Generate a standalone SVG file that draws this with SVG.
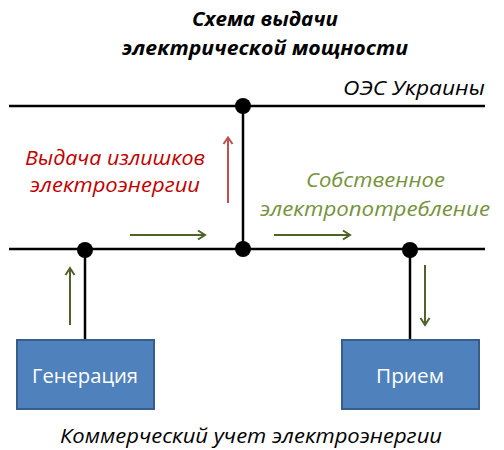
<svg xmlns="http://www.w3.org/2000/svg" width="504" height="450" viewBox="0 0 504 450">
<defs>
<style>
.t{font-family:"Open Sans","DejaVu Sans",sans-serif;font-style:italic;font-size:20px}
.bus{stroke:#000;stroke-width:2.5;fill:none}
.g{stroke:#4F6228;stroke-width:2;fill:none}
.r{stroke:#C0504D;stroke-width:2;fill:none}
.box{fill:#4F81BD;stroke:#385D8A;stroke-width:2}
.bt{font-family:"Open Sans","DejaVu Sans",sans-serif;font-size:20px;fill:#fff}
</style>
</defs>
<rect width="504" height="450" fill="#fff"/>
<g id="title">
<text class="t" x="192" y="26" font-weight="bold" textLength="146" lengthAdjust="spacingAndGlyphs">Схема выдачи</text>
<text class="t" x="122" y="55" font-weight="bold" textLength="286" lengthAdjust="spacingAndGlyphs">электрической мощности</text>
</g>
<text class="t" x="343" y="95" textLength="142" lengthAdjust="spacingAndGlyphs">ОЭС Украины</text>
<g id="connectors">
<line class="bus" x1="9" y1="106" x2="485" y2="106"/>
<line class="bus" x1="9" y1="249" x2="485" y2="249"/>
<line class="bus" x1="243" y1="106" x2="243" y2="249"/>
<line class="bus" x1="85" y1="249" x2="85" y2="340"/>
<line class="bus" x1="410" y1="249" x2="410" y2="340"/>
<path class="r" d="M228 203V138M223.5 144L228 137.5L232.5 144"/>
<path class="g" d="M130 235H204M198 230.5L205 235L198 239.5"/>
<path class="g" d="M274 235H349M343 230.5L350 235L343 239.5"/>
<path class="g" d="M70 325V269M65.5 275L70 268L74.5 275"/>
<path class="g" d="M425 265V324M420.5 318L425 325L429.5 318"/>
</g>
<g id="dots">
<circle cx="243" cy="106" r="8"/>
<circle cx="85" cy="250" r="8"/>
<circle cx="243" cy="249" r="8"/>
<circle cx="410" cy="250" r="8"/>
</g>
<g id="gen">
<rect class="box" x="17" y="340" width="137" height="69"/>
<text class="bt" x="32" y="383" textLength="106" lengthAdjust="spacingAndGlyphs">Генерация</text>
</g>
<g id="priem">
<rect class="box" x="342" y="340" width="137" height="69"/>
<text class="bt" x="376" y="383" textLength="68" lengthAdjust="spacingAndGlyphs">Прием</text>
</g>
<g id="labels">
<text class="t" x="25" y="165" fill="#C00000" textLength="180" lengthAdjust="spacingAndGlyphs">Выдача излишков</text>
<text class="t" x="30" y="192" fill="#C00000" textLength="170" lengthAdjust="spacingAndGlyphs">электроэнергии</text>
<text class="t" x="306" y="187" fill="#76923C" textLength="139" lengthAdjust="spacingAndGlyphs">Собственное</text>
<text class="t" x="260" y="216" fill="#76923C" textLength="230" lengthAdjust="spacingAndGlyphs">электропотребление</text>
<text class="t" x="60" y="443" textLength="382" lengthAdjust="spacingAndGlyphs">Коммерческий учет электроэнергии</text>
</g>
</svg>
